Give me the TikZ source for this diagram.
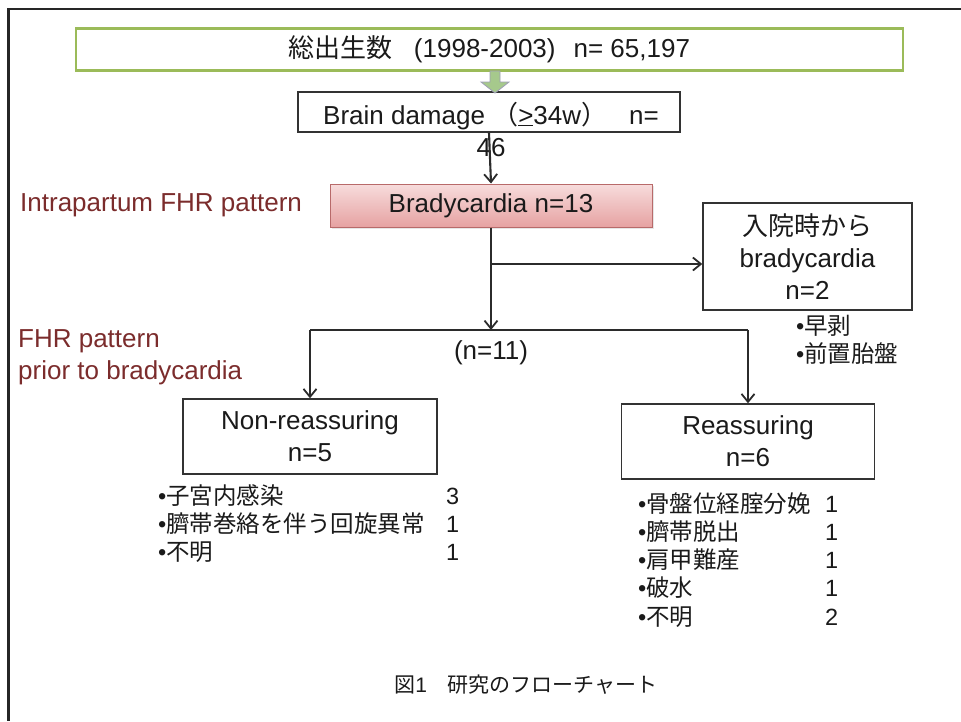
\documentclass[tikz,border=0pt]{standalone}
\usepackage{fontspec}
\setmainfont{Liberation Sans}
\newfontfamily\jp{Noto Sans CJK JP}
\usetikzlibrary{arrows.meta,shadows}
\definecolor{frameC}{HTML}{262626}
\definecolor{lineC}{HTML}{2B2B2B}
\definecolor{boxC}{HTML}{333333}
\definecolor{labC}{HTML}{7B2C2C}
\definecolor{greenC}{HTML}{9BBB59}
\definecolor{arrowG}{HTML}{A6C98C}
\definecolor{arrowGd}{HTML}{9E9EB5}
\definecolor{pinkT}{HTML}{F7DCDC}
\definecolor{pinkB}{HTML}{E6A2A2}
\definecolor{pinkD}{HTML}{B86A6A}
\definecolor{txtC}{HTML}{1A1A1A}
\newcommand\fsA{\fontsize{26}{32}\selectfont}
\newcommand\fsB{\fontsize{23.5}{28.3}\selectfont}
\newcommand\fsC{\fontsize{21}{25}\selectfont}
\begin{document}
\begin{tikzpicture}[x=1pt,y=-1pt,
  every node/.style={text=txtC},
  box/.style={draw=boxC, line width=1.4pt, fill=white, inner sep=0pt, align=center, font=\fsA},
  arr/.style={line width=2.1pt, draw=lineC, -{Straight Barb[length=8pt,width=13pt,line width=1.8pt]}},
  ln/.style={line width=2.1pt, draw=lineC},
  lab/.style={text=labC, font=\fsA, inner sep=0pt, anchor=west},
  lst/.style={anchor=base west, inner sep=0pt, font=\fsB},
]
\useasboundingbox (0,0) rectangle (961,721);
% outer frame (top and left edges)
\draw[line width=2.5pt, draw=frameC] (961,9) -- (8.5,9) -- (8.5,721);

% top box
\node[box, draw=greenC, line width=2.8pt, minimum width=827pt, minimum height=42pt] (tot) at (489.5,49.5)
  {{\jp 総出生数}\hspace{21pt}(1998-2003)\hspace{18pt}n= 65,197};

% brain damage box
\node[box, minimum width=382pt, minimum height=40pt] (bd) at (489,112) {};
\node[anchor=base, inner sep=0pt, font=\fsA] (bdt) at (491,124)
  {\begin{tabular}[t]{@{}c@{}}Brain damage {\jp （}\underline{>}34w{\jp ）}\hspace{22pt}n=\\46\end{tabular}};

% green block arrow
\coordinate (ga) at (495,71);
\filldraw[fill=arrowG, draw=arrowGd, line width=0.8pt]
  (ga) ++(-5,0) -- ++(0,11) -- ++(-9,0) -- ++(14,11) -- ++(14,-11) -- ++(-9,0) -- ++(0,-11) -- cycle;

% bradycardia
\node[box, draw=pinkD, line width=1pt, top color=pinkT, bottom color=pinkB,
  drop shadow={opacity=0.2, shadow xshift=1.5pt, shadow yshift=-2pt},
  minimum width=322pt, minimum height=43pt] (brady) at (491,205.5) {Bradycardia n=13};
\node[lab] (lab1) at (20,205) {Intrapartum FHR pattern};
\node[lab, align=left] (lab2) at (18,357) {FHR pattern\\prior to bradycardia};

% admission box
\node[box, minimum width=209pt, minimum height=107pt] (adm) at (807.5,256.5)
  {{\jp 入院時から}\\bradycardia\\n=2};
\node[lst] (adml) at (796,334)
  {\begin{tabular}[t]{@{}l@{}}•{\jp 早剥}\\•{\jp 前置胎盤}\end{tabular}};

% lower boxes
\node[box, minimum width=254pt, minimum height=75pt] (nr) at (310,436.5) {Non-reassuring\\n=5};
\node[box, minimum width=253pt, minimum height=75pt] (re) at (748,441.5) {Reassuring\\n=6};
\node[font=\fsA, inner sep=0pt] (n11) at (491,353) {(n=11)};

\node[lst] (nrl) at (158,504)
  {\begin{tabular}[t]{@{}p{288pt}@{}l@{}}
   •{\jp 子宮内感染} & 3\\
   •{\jp 臍帯巻絡を伴う回旋異常} & 1\\
   •{\jp 不明} & 1
   \end{tabular}};
\node[lst] (rel) at (638,512)
  {\begin{tabular}[t]{@{}p{187pt}@{}l@{}}
   •{\jp 骨盤位経腟分娩} & 1\\
   •{\jp 臍帯脱出} & 1\\
   •{\jp 肩甲難産} & 1\\
   •{\jp 破水} & 1\\
   •{\jp 不明} & 2
   \end{tabular}};

% caption
\node[font=\fsC, inner sep=0pt] (cap) at (526,685) {{\jp 図}1{\jp 　研究のフローチャート}};

% connectors
\coordinate (br) at (491,264);
\coordinate (jn) at (491,330);
\coordinate (jl) at (310,330);
\coordinate (jr) at (748,330);
\draw[arr] (bd.south) -- (brady.north);
\draw[arr] (brady.south) -- (jn);
\draw[arr] (br) -- (adm.west |- br);
\draw[ln] (jl) -- (jr);
\draw[arr] (jl) -- (nr.north);
\draw[arr] (jr) -- (re.north);
\end{tikzpicture}
\end{document}
